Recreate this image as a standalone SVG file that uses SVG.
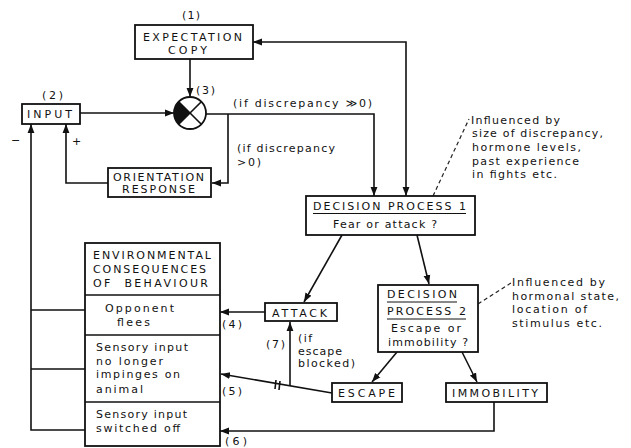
<svg xmlns="http://www.w3.org/2000/svg" width="631" height="448" viewBox="0 0 631 448">
<style>
.bx{fill:#fff;stroke:#111;stroke-width:1.8}
.ln{fill:none;stroke:#111;stroke-width:1.6}
.ar{marker-end:url(#ah)}
.ds{fill:none;stroke:#222;stroke-width:1.2;stroke-dasharray:4 3}
text{font-family:"DejaVu Sans","Liberation Sans",Arial,sans-serif;font-size:11px;fill:#111}
</style>
<defs>
<marker id="ah" viewBox="0 0 10 10" refX="10" refY="5" markerWidth="9" markerHeight="9" markerUnits="userSpaceOnUse" orient="auto-start-reverse">
<path d="M0,1.2 L10,5 L0,8.8 z" fill="#111"/>
</marker>
</defs>
<rect width="631" height="448" fill="#fff"/>

<g id="connectors">
<path class="ln ar" d="M190,59 V97"/>
<path class="ln ar" d="M80,113 H174"/>
<path class="ln ar" d="M206,114 H374 V196"/>
<path class="ln ar" d="M228,114 V183 H212"/>
<path class="ln ar" d="M108,183 H66 V124"/>
<path class="ln ar" d="M406,196 V42 H253" style="marker-start:url(#ah)"/>
<path class="ln ar" d="M342,235 L304,302"/>
<path class="ln ar" d="M417,235 L429,284"/>
<path class="ln ar" d="M397,352 L372,382"/>
<path class="ln ar" d="M462,352 L477,382"/>
<path class="ln ar" d="M265,312 H220"/>
<path class="ln ar" d="M332,393 L221,374"/>
<path class="ln ar" d="M290,386 V322"/>
<path class="ln" d="M276,380 L275,389 M280,381 L279,390" stroke-width="1.2"/>
<path class="ln ar" d="M494,402 V431 H220"/>
<path class="ln" d="M85,310 H31 M85,369 H31"/>
<path class="ln ar" d="M85,430 H31 V124"/>
<path class="ds" d="M433,196 L469,119"/>
<path class="ds" d="M478,304 L511,283"/>
</g>

<g id="expectation-copy">
<text x="182" y="19" textLength="18">(1)</text>
<rect class="bx" x="135" y="25" width="118" height="34"/>
<text x="143" y="40.5" textLength="99">EXPECTATION</text>
<text x="168" y="53.5" textLength="39">COPY</text>
</g>

<g id="comparator">
<circle cx="190" cy="113" r="16" fill="#fff" stroke="#111" stroke-width="1.8"/>
<path d="M190,113 L178.7,101.7 A16,16 0 0 0 178.7,124.3 Z" fill="#111"/>
<path class="ln" d="M178.7,101.7 L201.3,124.3 M178.7,124.3 L201.3,101.7"/>
<text x="196" y="94" textLength="19">(3)</text>
</g>

<g id="input">
<text x="42" y="99" textLength="21">(2)</text>
<rect class="bx" x="22" y="104" width="58" height="20"/>
<text x="27" y="118" textLength="45">INPUT</text>
<text x="11" y="144" font-size="13">−</text>
<text x="72" y="145" font-size="13">+</text>
</g>

<g id="discrepancy-labels">
<text x="233" y="107" textLength="139">(if discrepancy ≫0)</text>
<text x="237" y="152" textLength="98">(if discrepancy</text>
<text x="237" y="166" textLength="24">&gt;0)</text>
</g>

<g id="orientation-response">
<rect class="bx" x="108" y="168" width="103" height="29"/>
<text x="113" y="180.5" textLength="91">ORIENTATION</text>
<text x="122" y="193" textLength="73">RESPONSE</text>
</g>

<g id="decision-process-1">
<rect class="bx" x="306" y="196" width="169" height="39"/>
<text x="313" y="210" textLength="153">DECISION PROCESS 1</text>
<line x1="313" y1="213.5" x2="466" y2="213.5" stroke="#111" stroke-width="1"/>
<text x="333" y="227.5" textLength="104">Fear or attack ?</text>
</g>

<g id="note-1">
<text x="471" y="124" textLength="89">Influenced by</text>
<text x="472" y="137" textLength="131">size of discrepancy,</text>
<text x="472" y="151" textLength="109">hormone levels,</text>
<text x="472" y="165" textLength="107">past experience</text>
<text x="472" y="178" textLength="85">in fights etc.</text>
</g>

<g id="decision-process-2">
<rect class="bx" x="378" y="285" width="100" height="67"/>
<text x="387" y="298" textLength="70">DECISION</text>
<line x1="387" y1="302" x2="457" y2="302" stroke="#111" stroke-width="1"/>
<text x="387" y="315" textLength="79">PROCESS 2</text>
<line x1="387" y1="319" x2="466" y2="319" stroke="#111" stroke-width="1"/>
<text x="391" y="332" textLength="70">Escape or</text>
<text x="388" y="346" textLength="80">immobility ?</text>
</g>

<g id="note-2">
<text x="512" y="286" textLength="93">Influenced by</text>
<text x="512" y="299.5" textLength="107">hormonal state,</text>
<text x="512" y="313" textLength="75">location of</text>
<text x="512" y="326.5" textLength="90">stimulus etc.</text>
</g>

<g id="attack">
<rect class="bx" x="265" y="303" width="72" height="18"/>
<text x="272" y="316.5" textLength="55">ATTACK</text>
</g>

<g id="escape">
<rect class="bx" x="332" y="383" width="70" height="19"/>
<text x="338" y="397" textLength="57">ESCAPE</text>
</g>

<g id="immobility">
<rect class="bx" x="446" y="383" width="101" height="19"/>
<text x="452" y="397" textLength="86">IMMOBILITY</text>
</g>

<g id="connector-labels">
<text x="222" y="328" textLength="20">(4)</text>
<text x="222" y="395" textLength="20">(5)</text>
<text x="225" y="445" textLength="22">(6)</text>
<text x="266" y="348" textLength="19">(7)</text>
<text x="298" y="342" textLength="14">(if</text>
<text x="298" y="354.5" textLength="44">escape</text>
<text x="298" y="367" textLength="57">blocked)</text>
</g>

<g id="environmental-consequences">
<rect class="bx" x="85" y="243" width="135" height="203"/>
<line x1="85" y1="295" x2="220" y2="295" stroke="#111" stroke-width="1.4"/>
<line x1="85" y1="335" x2="220" y2="335" stroke="#111" stroke-width="1.4"/>
<line x1="85" y1="402" x2="220" y2="402" stroke="#111" stroke-width="1.4"/>
<text x="93" y="259" textLength="118">ENVIRONMENTAL</text>
<text x="93" y="273" textLength="113">CONSEQUENCES</text>
<text x="93" y="287" textLength="115" xml:space="preserve">OF  BEHAVIOUR</text>
<text x="105" y="312" textLength="69">Opponent</text>
<text x="117" y="326" textLength="33">flees</text>
<text x="96" y="351" textLength="92">Sensory input</text>
<text x="96" y="365" textLength="67">no longer</text>
<text x="96" y="378" textLength="84">impinges on</text>
<text x="96" y="393" textLength="47">animal</text>
<text x="96" y="418" textLength="91">Sensory input</text>
<text x="96" y="432" textLength="84">switched off</text>
</g>
</svg>
